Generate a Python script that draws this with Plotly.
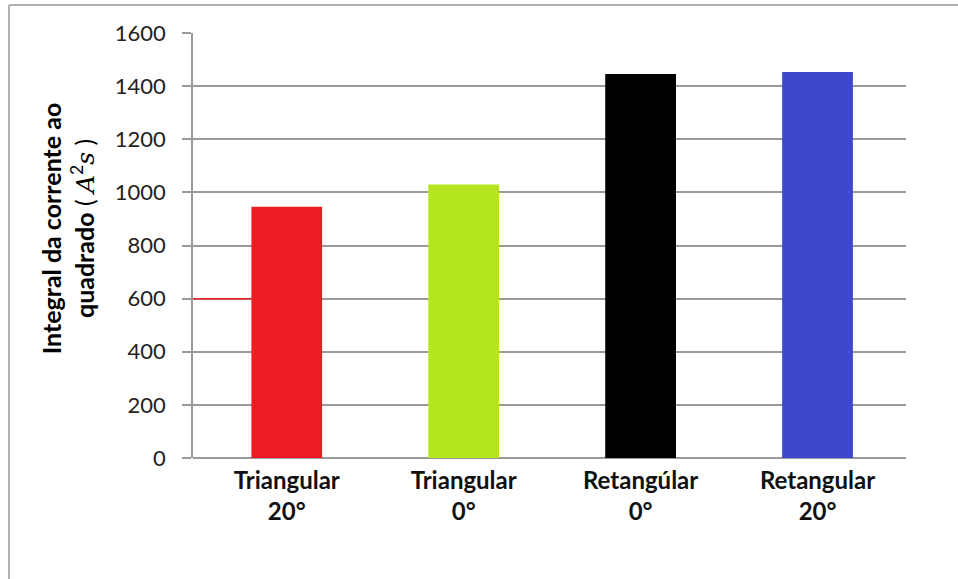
import plotly.graph_objects as go

categories = ["Triangular<br>20°", "Triangular<br>0°", "Retangúlar<br>0°", "Retangular<br>20°"]
values = [946, 1030, 1446, 1453]
colors = ["#ED1C24", "#B5E61D", "#000000", "#3F48CC"]
y_ticks = [0, 200, 400, 600, 800, 1000, 1200, 1400, 1600]

xpos = list(range(len(categories)))
bar_w = 0.4
x_range = [-0.53, 3.5]

fig = go.Figure()
fig.add_trace(go.Bar(
    x=xpos, y=values, width=bar_w,
    marker=dict(color=colors, line=dict(width=0)),
    showlegend=False,
))

grid_col = "#9A9A9A"
fig.update_layout(
    width=958, height=579,
    margin=dict(l=193, r=52, t=33, b=121),
    paper_bgcolor="white", plot_bgcolor="white",
    font=dict(family="Lato, Open Sans, sans-serif", color="#1a1a1a"),
    xaxis=dict(
        range=x_range, tickvals=xpos, ticktext=["<b>%s</b>" % c for c in categories],
        tickfont=dict(size=24, color="#111"), showgrid=False, zeroline=False,
        showline=False, ticks="", ticklabelstandoff=6, fixedrange=True,
    ),
    yaxis=dict(
        range=[0, 1600], tickvals=y_ticks, tickfont=dict(size=22, color="#222"),
        showgrid=True, gridcolor=grid_col, gridwidth=1.5,
        zeroline=True, zerolinecolor=grid_col, zerolinewidth=1.5,
        showline=True, linecolor=grid_col, linewidth=1.5,
        ticks="outside", ticklen=9, tickcolor=grid_col, tickwidth=1.5,
        ticklabelstandoff=12, fixedrange=True,
    ),
    annotations=[dict(
        text="<b>Integral da corrente ao<br>quadrado</b> ( <i style='font-family:DejaVu Serif'>A</i><sup>2</sup><i style='font-family:DejaVu Serif'>s</i> )",
        xref="paper", yref="paper", x=-0.175, y=0.539, xanchor="center", yanchor="middle",
        textangle=-90, showarrow=False, font=dict(size=25, color="#000"),
    )],
    shapes=[
        # chart-area border (top and left edges visible)
        dict(type="line", xref="paper", yref="paper", x0=-0.258, x1=1.2, y0=1.066, y1=1.066,
             line=dict(color="#B0B0B0", width=2)),
        dict(type="line", xref="paper", yref="paper", x0=-0.258, x1=-0.258, y0=1.066, y1=-0.4,
             line=dict(color="#B0B0B0", width=2)),
        # red gridline segment left of first bar
        dict(type="line", xref="x", yref="y", x0=x_range[0], x1=xpos[0] - bar_w / 2,
             y0=600, y1=600, line=dict(color="#ED1C24", width=1.5)),
    ],
)

fig.write_html("out.html", config={"displayModeBar": False},
               post_script="document.body.style.margin='0';")
